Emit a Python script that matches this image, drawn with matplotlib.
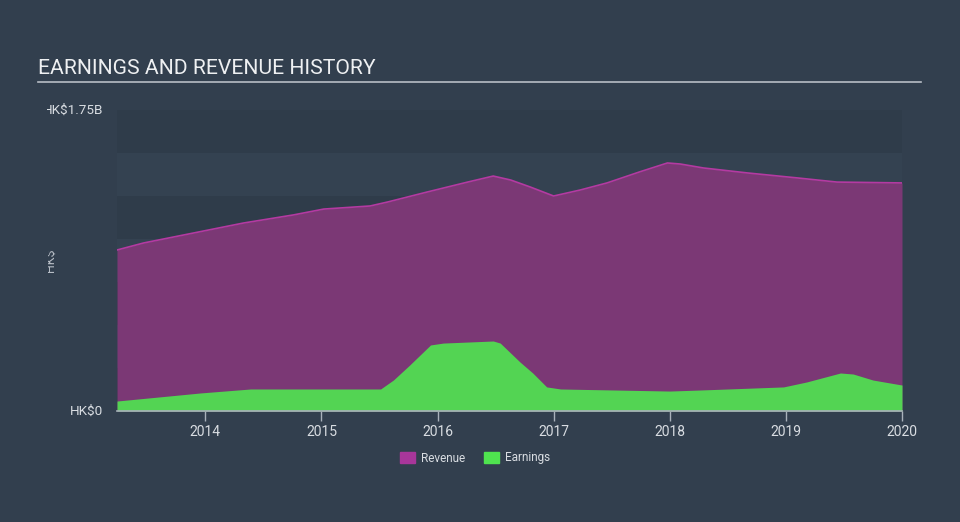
import matplotlib
matplotlib.use("Agg")
import matplotlib.pyplot as plt
from matplotlib.transforms import Bbox
from matplotlib.patches import Rectangle

plt.rcParams["font.family"] = ["Roboto", "DejaVu Sans"]

# ---- data (HK$ billions) ----
rev_x = [2013.24, 2013.47, 2013.90, 2014.33, 2014.76, 2015.02, 2015.42, 2015.57,
         2015.91, 2016.26, 2016.48, 2016.63, 2016.80, 2017.00, 2017.23, 2017.46,
         2017.74, 2017.98, 2018.09, 2018.29, 2018.67, 2019.10, 2019.44, 2020.00]
rev_y = [0.936, 0.977, 1.035, 1.093, 1.140, 1.174, 1.192, 1.215,
         1.273, 1.331, 1.366, 1.343, 1.302, 1.250, 1.285, 1.326,
         1.390, 1.442, 1.436, 1.413, 1.384, 1.355, 1.331, 1.326]

earn_x = [2013.24, 2013.96, 2014.39, 2015.51, 2015.62, 2015.76, 2015.94, 2016.05,
          2016.48, 2016.54, 2016.71, 2016.82, 2016.94, 2017.06, 2018.00, 2018.26,
          2018.98, 2019.18, 2019.47, 2019.58, 2019.75, 2020.00]
earn_y = [0.058, 0.105, 0.128, 0.128, 0.180, 0.267, 0.384, 0.395,
          0.407, 0.395, 0.285, 0.221, 0.140, 0.128, 0.116, 0.122,
          0.140, 0.169, 0.221, 0.215, 0.180, 0.151]

x_ticks = [2014, 2015, 2016, 2017, 2018, 2019, 2020]
y_max = 1.75
band_edges = [0, 0.25, 0.5, 0.75, 1.0, 1.25, 1.5, 1.75]
y_tick_labels = ["HK$0", "HK$1.75B"]

BG = "#323f4e"
BAND_DARK = "#2f3c4a"
BAND_LIGHT = "#344251"
REV_FILL = "#7b3875"
REV_LINE = "#b43aa2"
REV_LEG = "#a8369a"
EARN_FILL = "#53d453"
EARN_LEG = "#4fe34f"
TXT = "#d9dde2"

fig = plt.figure(figsize=(9.6, 5.22), dpi=100, facecolor=BG)
ax = fig.add_axes([117/960, 1-411/522, (902-117)/960, (411-110)/522])
ax.set_facecolor(BAND_LIGHT)
ax.set_xlim(rev_x[0], 2020.0)
ax.set_ylim(0, y_max)

# alternating horizontal bands
for i in range(len(band_edges)-1):
    col = BAND_DARK if (len(band_edges)-2-i) % 2 == 0 else BAND_LIGHT
    ax.axhspan(band_edges[i], band_edges[i+1], color=col, lw=0, zorder=0)

ax.fill_between(rev_x, 0, rev_y, color=REV_FILL, lw=0, zorder=2)
ax.plot(rev_x, rev_y, color=REV_LINE, lw=1.2, zorder=3)
ax.fill_between(earn_x, 0, earn_y, color=EARN_FILL, lw=0, zorder=4)

for s in ["top", "right", "left"]:
    ax.spines[s].set_visible(False)
ax.spines["bottom"].set_color("#a9b1bb")
ax.spines["bottom"].set_linewidth(1.2)
ax.spines["bottom"].set_zorder(6)

ax.set_xticks(x_ticks)
ax.set_xticklabels([str(t) for t in x_ticks])
ax.tick_params(axis="x", colors="#a9b1bb", labelcolor=TXT, labelsize=10,
               length=7, width=1, pad=3)
ax.set_yticks([])

clip = Bbox.from_extents(47, 0, 960, 522)
for val, lab in zip([0, y_max], y_tick_labels):
    t = ax.text(-0.018, val, lab, transform=ax.get_yaxis_transform(),
                ha="right", va="center", color=TXT, fontsize=9.7)
    t.set_clip_box(clip)
    t.set_clip_on(True)

yl = fig.text(50/960, 1-260/522, "HK$", rotation=90, ha="center", va="center",
              color="#b8bec6", fontsize=9)
yl.set_clip_box(Bbox.from_extents(48, 0, 960, 522))
yl.set_clip_on(True)

# title & underline
fig.text(38/960, 1-68/522, "EARNINGS AND REVENUE HISTORY", color="#eef0f2",
         fontsize=15.2, ha="left", va="center")
fig.add_artist(plt.Line2D([38/960, 921/960], [1-82/522, 1-82/522],
                          color="#b8bec6", lw=1.2))

# legend
for x0, col, lab in [(400, REV_LEG, "Revenue"), (484, EARN_LEG, "Earnings")]:
    fig.add_artist(Rectangle((x0/960, 1-463/522), 15/960, 11/522,
                             color=col, transform=fig.transFigure))
    fig.text((x0+21)/960, 1-458/522, lab, color=TXT, fontsize=8.5,
             ha="left", va="center")

fig.savefig("out.png", dpi=100, facecolor=BG)
